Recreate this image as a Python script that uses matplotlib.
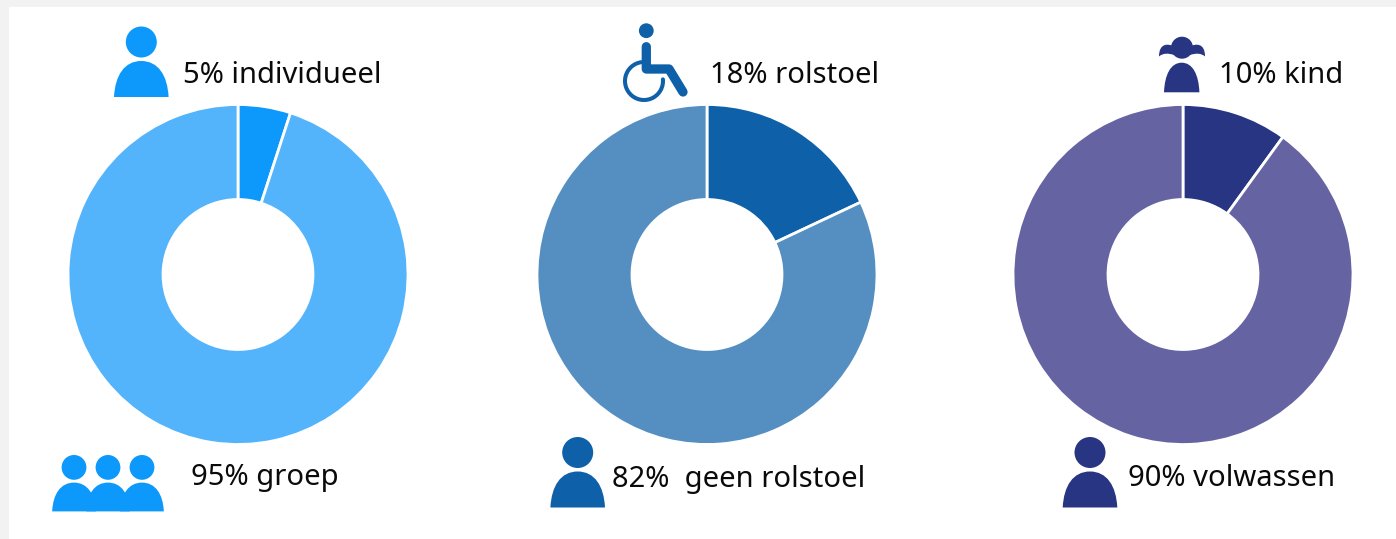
import numpy as np
import matplotlib
matplotlib.use("Agg")
import matplotlib.pyplot as plt
from matplotlib.patches import Circle, Rectangle, PathPatch, Arc
from matplotlib.path import Path

# values per donut (small slice first, clockwise from the top)
titles = ["individueel", "rolstoel", "kind"]
small_values = [5, 18, 10]
big_values = [95, 82, 90]
small_colors = ["#0d99fc", "#0e60a8", "#283583"]
big_colors = ["#53b4fb", "#558fc2", "#6663a3"]

labels_top = ["5% individueel", "18% rolstoel", "10% kind"]
labels_bottom = ["95% groep", "82%  geen rolstoel", "90% volwassen"]

W, H = 1396, 539
pie_cx = [238, 707, 1183]
pie_cy = 274.5
pie_r = 170
hole_r = 75

plt.rcParams["font.family"] = ["Noto Sans", "DejaVu Sans"]

fig = plt.figure(figsize=(W / 100, H / 100), dpi=100, facecolor="#f2f2f2")

# overlay in pixel coordinates, y down like the picture
ax = fig.add_axes([0, 0, 1, 1])
ax.set_xlim(0, W)
ax.set_ylim(H, 0)
ax.axis("off")
ax.add_patch(Rectangle((9, 7), W - 9, H - 7, color="white", lw=0))

# donuts
for i in range(3):
    pad = pie_r + 1
    pa = fig.add_axes([(pie_cx[i] - pad) / W, (H - pie_cy - pad) / H, 2 * pad / W, 2 * pad / H])
    pa.pie([small_values[i], big_values[i]], colors=[small_colors[i], big_colors[i]],
           startangle=90, counterclock=False, radius=pie_r / pad,
           wedgeprops=dict(width=(pie_r - hole_r) / pad, edgecolor="white", linewidth=2))
    pa.set_xlim(-1, 1)
    pa.set_ylim(-1, 1)


def dome(cx, top, bottom, hw, color):
    # rounded body
    h = bottom - top
    verts = [(cx - hw, bottom),
             (cx - hw * 0.96, bottom - h * 0.6), (cx - hw * 0.62, top), (cx, top),
             (cx + hw * 0.62, top), (cx + hw * 0.96, bottom - h * 0.6), (cx + hw, bottom),
             (cx - hw, bottom)]
    codes = [Path.MOVETO, Path.CURVE4, Path.CURVE4, Path.CURVE4,
             Path.CURVE4, Path.CURVE4, Path.CURVE4, Path.CLOSEPOLY]
    ax.add_patch(PathPatch(Path(verts, codes), facecolor=color, edgecolor="none"))


def person(cx, top, color, scale=1.0):
    head_r = 15.5 * scale
    ax.add_patch(Circle((cx, top + head_r), head_r, color=color, lw=0))
    dome(cx, top + 34.5 * scale, top + 70.5 * scale, 27.3 * scale, color)


def wheelchair(color):
    ax.add_patch(Circle((646.3, 30.7), 7.4, color=color, lw=0))
    # wheel, open at the upper right
    ax.add_patch(Arc((644, 81), 38, 38, theta1=-5, theta2=262, color=color, lw=2.9, capstyle="round"))
    # torso, seat, leg
    ax.plot([646.3, 646.3, 669, 683], [46.7, 69, 69, 92], color=color, lw=6.7,
            solid_capstyle="round", solid_joinstyle="round")


def girl(color):
    cx = 1182
    ax.add_patch(Circle((cx, 47.7), 11, color=color, lw=0))
    # pigtails
    for sign in (-1, 1):
        verts = [(cx + sign * 7, 47), (cx + sign * 14, 43), (cx + sign * 23, 43), (cx + sign * 23, 56.5),
                 (cx + sign * 19, 53), (cx + sign * 14, 53), (cx + sign * 8, 55), (cx + sign * 7, 47)]
        codes = [Path.MOVETO, Path.CURVE4, Path.CURVE4, Path.CURVE4,
                 Path.CURVE4, Path.CURVE4, Path.CURVE4, Path.CLOSEPOLY]
        ax.add_patch(PathPatch(Path(verts, codes), facecolor=color, edgecolor="none"))
    dome(cx - 0.3, 62.7, 92.3, 17.7, color)


# icons
person(141.3, 26.5, small_colors[0])
wheelchair(small_colors[1])
girl(small_colors[2])
for cx in (108, 74, 142):
    person(cx, 455, small_colors[0], scale=0.8)
person(577.7, 437, small_colors[1])
person(1090, 437, small_colors[2])

# texts
text_kw = dict(fontsize=21, color="#0a0a0a", va="baseline", ha="left")
ax.text(183, 83, labels_top[0], **text_kw)
ax.text(710, 83, labels_top[1], **text_kw)
ax.text(1219, 83, labels_top[2], **text_kw)
ax.text(191, 485.5, labels_bottom[0], **text_kw)
ax.text(612, 486.5, labels_bottom[1], **text_kw)
ax.text(1128, 486.5, labels_bottom[2], **text_kw)

fig.savefig("out.png", dpi=100, facecolor=fig.get_facecolor())
